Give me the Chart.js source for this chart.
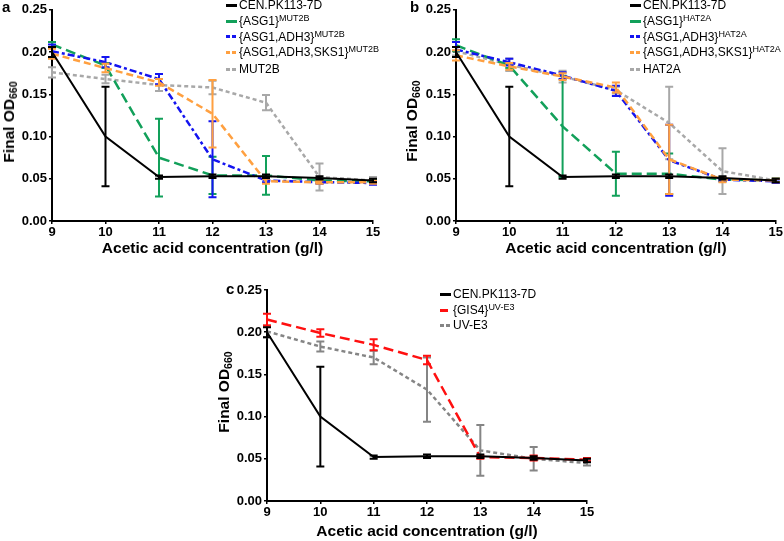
<!DOCTYPE html>
<html>
<head>
<meta charset="utf-8">
<script src="https://cdn.jsdelivr.net/npm/chart.js@4.4.1/dist/chart.umd.min.js"></script>
<style>
  body { margin: 0; background: #fff; }
  #wrap { position: relative; width: 784px; height: 541px; font-family: 'Liberation Sans', Arial, sans-serif; color: #000; }
  canvas, .abs { position: absolute; }
  .letter { font-size: 15px; font-weight: bold; line-height: 15px; }
  .ytitle { font-size: 15.5px; font-weight: bold; white-space: nowrap; transform: translate(-50%, -50%) rotate(-90deg); }
  .ytitle sub { font-size: 10.5px; vertical-align: -3px; line-height: 0; }
  .leg { font-size: 12px; line-height: 14px; height: 14px; white-space: nowrap; }
  .leg sup { font-size: 9px; line-height: 0; vertical-align: 4px; }
  .swatch { width: 11px; height: 3px; }
</style>
</head>
<body>
<div id="wrap">
  <canvas id="chartA" width="392" height="270" style="left:0;top:0"></canvas>
  <canvas id="chartB" width="392" height="270" style="left:392px;top:0"></canvas>
  <canvas id="chartC" width="420" height="271" style="left:190px;top:270px"></canvas>
</div>
<script>
// x values and tick labels shared by all three panels
const concentrations = [9, 10, 11, 12, 13, 14, 15];
const xTickValues = [9, 10, 11, 12, 13, 14, 15];
const yTickValues = [0, 0.05, 0.10, 0.15, 0.20, 0.25];

// reference strain, same in every panel
const cenMean = [0.200, 0.100, 0.052, 0.053, 0.053, 0.051, 0.048];
const cenErr = [0.006, 0.059, 0.002, 0.002, 0.002, 0.002, 0.002];

// panel a: MUT2B
const aAsg1Mean = [0.209, 0.184, 0.075, 0.054, 0.054, 0.048, 0.047];
const aAsg1Err = [0.003, 0.003, 0.046, 0.022, 0.023, 0.002, 0.002];
const aAdh3Mean = [0.201, 0.188, 0.168, 0.073, 0.048, 0.046, 0.045];
const aAdh3Err = [0.008, 0.006, 0.006, 0.045, 0.002, 0.002, 0.002];
const aSks1Mean = [0.198, 0.181, 0.164, 0.127, 0.047, 0.046, 0.046];
const aSks1Err = [0.006, 0.005, 0.004, 0.040, 0.003, 0.002, 0.002];
const aParentMean = [0.176, 0.168, 0.161, 0.158, 0.140, 0.052, 0.048];
const aParentErr = [0.006, 0.005, 0.007, 0.008, 0.009, 0.016, 0.004];

// panel b: HAT2A
const bAsg1Mean = [0.208, 0.184, 0.112, 0.056, 0.056, 0.049, 0.048];
const bAsg1Err = [0.007, 0.003, 0.060, 0.026, 0.024, 0.002, 0.002];
const bAdh3Mean = [0.203, 0.188, 0.172, 0.154, 0.072, 0.049, 0.047];
const bAdh3Err = [0.009, 0.004, 0.004, 0.006, 0.042, 0.002, 0.002];
const bSks1Mean = [0.196, 0.183, 0.171, 0.158, 0.073, 0.049, 0.048];
const bSks1Err = [0.006, 0.004, 0.004, 0.006, 0.041, 0.003, 0.002];
const bParentMean = [0.201, 0.185, 0.171, 0.155, 0.116, 0.059, 0.048];
const bParentErr = [0.005, 0.0075, 0.007, 0.004, 0.043, 0.027, 0.003];

// panel c: UV-E3
const cGis4Mean = [0.215, 0.199, 0.185, 0.167, 0.052, 0.051, 0.049];
const cGis4Err = [0.007, 0.0045, 0.0065, 0.005, 0.002, 0.003, 0.002];
const cParentMean = [0.201, 0.183, 0.170, 0.132, 0.060, 0.050, 0.045];
const cParentErr = [0.007, 0.006, 0.008, 0.038, 0.030, 0.014, 0.003];

const FONT = "'Liberation Sans', Arial, sans-serif";
const BLACK = '#000000', GREEN = '#12a05a', BLUE = '#1414f0', ORANGE = '#ffa040', GREY = '#a8a8a8', DGREY = '#858585', RED = '#ff1010';

// vertical error bars drawn right after each line
const errorBars = {
  id: 'errorBars',
  afterDatasetDraw(chart, args) {
    const ds = chart.data.datasets[args.index];
    if (!ds.errors) return;
    const { ctx, scales: { x, y } } = chart;
    ctx.save();
    ctx.strokeStyle = ds.borderColor;
    ctx.lineWidth = 2;
    ctx.setLineDash([]);
    ds.data.forEach((p, i) => {
      const e = ds.errors[i];
      const px = x.getPixelForValue(p.x);
      const top = y.getPixelForValue(p.y + e);
      const bot = y.getPixelForValue(p.y - e);
      ctx.beginPath();
      ctx.moveTo(px, top); ctx.lineTo(px, bot);
      ctx.moveTo(px - 4, top); ctx.lineTo(px + 4, top);
      ctx.moveTo(px - 4, bot); ctx.lineTo(px + 4, bot);
      ctx.stroke();
    });
    ctx.restore();
  },
};

// order: lower draws on top (orange sits over blue and grey in the original)
function series(label, mean, err, color, dash, order, width) {
  return {
    label,
    data: concentrations.map((x, i) => ({ x, y: mean[i] })),
    errors: err,
    borderColor: color,
    borderDash: dash,
    borderWidth: width || 2.5,
    order,
    pointRadius: 0,
    tension: 0,
    fill: false,
    clip: false,
  };
}

function makePanel(id, datasets, yWidth, xHeight, pad, titlePad) {
  const tickFont = { family: FONT, size: 13, weight: 'bold' };
  new Chart(document.getElementById(id), {
    type: 'line',
    data: { datasets },
    plugins: [errorBars],
    options: {
      responsive: false,
      animation: false,
      events: [],
      layout: { padding: pad },
      plugins: { legend: { display: false }, tooltip: { enabled: false } },
      scales: {
        x: {
          type: 'linear', min: 9, max: 15,
          afterBuildTicks: (s) => { s.ticks = xTickValues.map((v) => ({ value: v })); },
          afterFit: (s) => { s.height = xHeight; },
          ticks: { font: tickFont, color: BLACK, padding: 1, maxRotation: 0, callback: (v) => String(v) },
          grid: { drawOnChartArea: false, tickLength: 3, color: BLACK, lineWidth: 1.5 },
          border: { color: BLACK, width: 2 },
          title: {
            display: true, text: 'Acetic acid concentration (g/l)', color: BLACK,
            font: { family: FONT, size: 15.5, weight: 'bold' }, padding: { top: 0, bottom: titlePad },
          },
        },
        y: {
          min: 0, max: 0.25,
          afterBuildTicks: (s) => { s.ticks = yTickValues.map((v) => ({ value: v })); },
          afterFit: (s) => { s.width = yWidth; },
          ticks: { font: tickFont, color: BLACK, padding: 2, callback: (v) => v.toFixed(2) },
          grid: { drawOnChartArea: false, tickLength: 3, color: BLACK, lineWidth: 1.5 },
          border: { color: BLACK, width: 2 },
        },
      },
    },
  });
}

makePanel('chartA', [
  series('CEN.PK113-7D', cenMean, cenErr, BLACK, [], 0, 2),
  series('{ASG1}MUT2B', aAsg1Mean, aAsg1Err, GREEN, [10, 5], 3),
  series('{ASG1,ADH3}MUT2B', aAdh3Mean, aAdh3Err, BLUE, [7, 3, 3, 3], 2),
  series('{ASG1,ADH3,SKS1}MUT2B', aSks1Mean, aSks1Err, ORANGE, [7, 4], 1),
  series('MUT2B', aParentMean, aParentErr, GREY, [4, 3], 4),
], 52, 49, { left: 0, top: 9, right: 19, bottom: 0 }, 12);

makePanel('chartB', [
  series('CEN.PK113-7D', cenMean, cenErr, BLACK, [], 0, 2),
  series('{ASG1}HAT2A', bAsg1Mean, bAsg1Err, GREEN, [10, 5], 3),
  series('{ASG1,ADH3}HAT2A', bAdh3Mean, bAdh3Err, BLUE, [7, 3, 3, 3], 2),
  series('{ASG1,ADH3,SKS1}HAT2A', bSks1Mean, bSks1Err, ORANGE, [7, 4], 1),
  series('HAT2A', bParentMean, bParentErr, GREY, [4, 3], 4),
], 64, 49, { left: 0, top: 9, right: 8, bottom: 0 }, 12);

makePanel('chartC', [
  series('CEN.PK113-7D', cenMean, cenErr, BLACK, [], 0, 2),
  series('{GIS4}UV-E3', cGis4Mean, cGis4Err, RED, [10, 5], 1),
  series('UV-E3', cParentMean, cParentErr, DGREY, [4, 3], 2),
], 77, 40, { left: 0, top: 20, right: 23, bottom: 0 }, 0);

// overlay text: panel letters, y titles with subscript, legends with superscripts
const wrap = document.getElementById('wrap');
function addDiv(cls, left, top, html) {
  const d = document.createElement('div');
  d.className = 'abs ' + cls;
  d.style.left = left + 'px';
  d.style.top = top + 'px';
  d.innerHTML = html;
  wrap.appendChild(d);
  return d;
}

addDiv('letter', 2, -1, 'a');
addDiv('letter', 410, -1, 'b');
addDiv('letter', 226, 281, 'c');

addDiv('ytitle', 9, 122, 'Final OD<sub>660</sub>');
addDiv('ytitle', 412, 121, 'Final OD<sub>660</sub>');
addDiv('ytitle', 224, 392, 'Final OD<sub>660</sub>');

function swatchBg(color, dash) {
  if (!dash) return color;
  return `repeating-linear-gradient(90deg, ${color} 0 ${dash[0]}px, transparent ${dash[0]}px ${dash[0] + dash[1]}px)`;
}

function legend(x, rows, entries) {
  entries.forEach((e, i) => {
    const s = addDiv('swatch', x, rows[i] - 1.5, '');
    s.style.background = swatchBg(e.color, e.dash);
    addDiv('leg', x + 13, rows[i] - 7, e.html);
  });
}

legend(226, [5, 21, 36.5, 52, 69], [
  { color: BLACK, html: 'CEN.PK113-7D' },
  { color: GREEN, html: '{ASG1}<sup>MUT2B</sup>' },
  { color: BLUE, dash: [4, 2], html: '{ASG1,ADH3}<sup>MUT2B</sup>' },
  { color: ORANGE, dash: [4, 2], html: '{ASG1,ADH3,SKS1}<sup>MUT2B</sup>' },
  { color: GREY, dash: [4, 2], html: 'MUT2B' },
]);

legend(630, [5, 21, 36.5, 52, 69], [
  { color: BLACK, html: 'CEN.PK113-7D' },
  { color: GREEN, html: '{ASG1}<sup>HAT2A</sup>' },
  { color: BLUE, dash: [4, 2], html: '{ASG1,ADH3}<sup>HAT2A</sup>' },
  { color: ORANGE, dash: [4, 2], html: '{ASG1,ADH3,SKS1}<sup>HAT2A</sup>' },
  { color: GREY, dash: [4, 2], html: 'HAT2A' },
]);

legend(440, [294, 310, 325], [
  { color: BLACK, html: 'CEN.PK113-7D' },
  { color: RED, dash: [8, 3], html: '{GIS4}<sup>UV-E3</sup>' },
  { color: DGREY, dash: [4, 2], html: 'UV-E3' },
]);
</script>
</body>
</html>
